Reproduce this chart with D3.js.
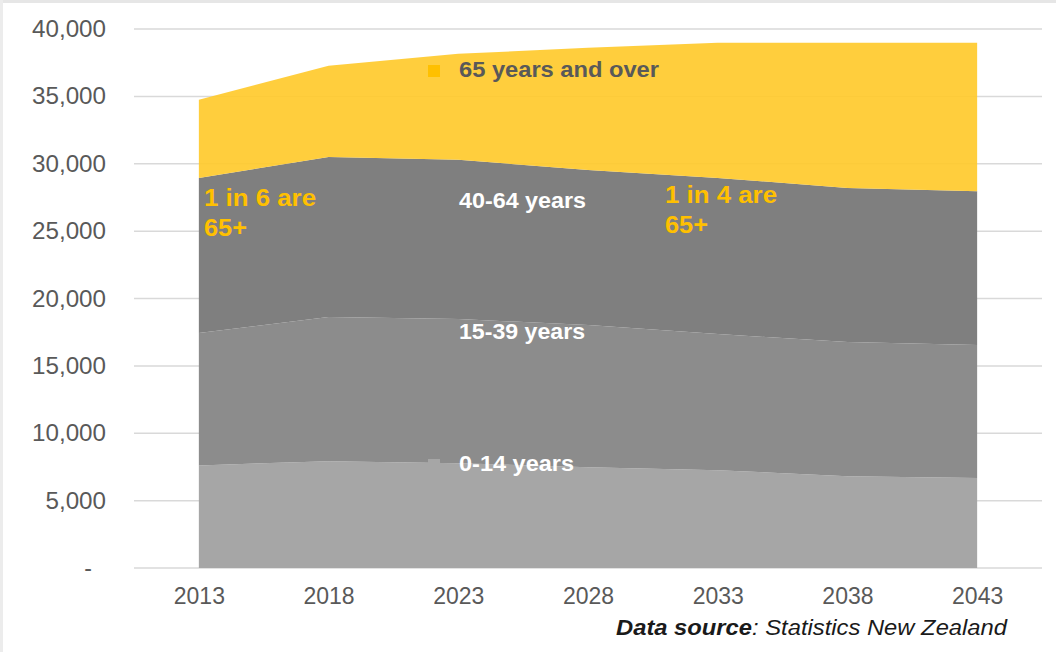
<!DOCTYPE html>
<html>
<head>
<meta charset="utf-8">
<script src="https://cdn.jsdelivr.net/npm/d3@7"></script>
<style>
  html, body { margin: 0; padding: 0; background: #fff; }
  svg { display: block; font-family: "Liberation Sans", Arial, sans-serif; }
</style>
</head>
<body>
<svg id="chart" width="1056" height="652"></svg>
<script>
const years = ["2013", "2018", "2023", "2028", "2033", "2038", "2043"];
const seriesNames = ["0-14 years", "15-39 years", "40-64 years", "65 years and over"];
const age0to14 = [7610, 7930, 7780, 7480, 7260, 6810, 6670];
const age15to39 = [9830, 10700, 10700, 10550, 10100, 9960, 9880];
const age40to64 = [11510, 11880, 11810, 11510, 11590, 11430, 11410];
const age65plus = [5800, 6760, 7870, 9070, 10030, 10780, 11020];
const yTicks = [0, 5000, 10000, 15000, 20000, 25000, 30000, 35000, 40000];
const colors = ["#A6A6A6", "#8C8C8C", "#7F7F7F", "#FFCA2D"];

const rows = years.map((y, i) => ({
  year: y,
  "0-14 years": age0to14[i],
  "15-39 years": age15to39[i],
  "40-64 years": age40to64[i],
  "65 years and over": age65plus[i]
}));

const svg = d3.select("#chart");

// frame edges
svg.append("rect").attr("x", 0).attr("y", 0).attr("width", 1056).attr("height", 3).attr("fill", "#e6e6e6");
svg.append("rect").attr("x", 0).attr("y", 0).attr("width", 3).attr("height", 652).attr("fill", "#ececec");

const x = d3.scalePoint().domain(years).range([134, 1042]).padding(0.5);
const y = d3.scaleLinear().domain([0, 40000]).range([568, 29]);

// gridlines
svg.append("g").selectAll("line").data(yTicks).join("line")
  .attr("x1", 134).attr("x2", 1042)
  .attr("y1", d => y(d)).attr("y2", d => y(d))
  .attr("stroke", "#D9D9D9").attr("stroke-width", 1.5);

const stack = d3.stack().keys(seriesNames)(rows);
const area = d3.area()
  .x(d => x(d.data.year))
  .y0(d => y(d[0]))
  .y1(d => y(d[1]));

svg.append("g").selectAll("path").data(stack).join("path")
  .attr("d", area)
  .attr("fill", (d, i) => colors[i])
  .attr("fill-opacity", (d, i) => i === 3 ? 0.92 : 1);

// y axis labels
const fmt = d3.format(",");
const emWidth = s => Array.from(s).reduce((a, c) => a + (c === "," ? 0.278 : 0.556), 0);
const yAxis = d3.axisLeft(y).tickValues(yTicks)
  .tickFormat(d => d === 0 ? "-" : fmt(d))
  .tickSize(0).tickPadding(0);
const ya = svg.append("g").attr("transform", "translate(106,0)").call(yAxis);
ya.select(".domain").remove();
ya.selectAll("text")
  .attr("fill", "#595959").attr("font-size", 23)
  .attr("font-family", "Liberation Sans, Arial, sans-serif")
  .attr("dy", "0.33em")
  .attr("dx", d => d === 0 ? -14 : 0)
  .attr("textLength", d => d === 0 ? null : 24.2 * emWidth(fmt(d)))
  .attr("lengthAdjust", "spacingAndGlyphs");

// x axis labels
const xAxis = d3.axisBottom(x).tickSize(0).tickPadding(0);
const xa = svg.append("g").attr("transform", "translate(0,587)").call(xAxis);
xa.select(".domain").remove();
xa.selectAll("text")
  .attr("fill", "#595959").attr("font-size", 23)
  .attr("font-family", "Liberation Sans, Arial, sans-serif")
  .attr("dy", "0.73em");

// series labels with markers
const labelPos = [
  { name: seriesNames[0], y: 471, color: "#ffffff", w: 115 },
  { name: seriesNames[1], y: 339, color: "#ffffff", w: 126 },
  { name: seriesNames[2], y: 208, color: "#ffffff", w: 127 },
  { name: seriesNames[3], y: 77, color: "#595959", w: 200 }
];
const markerColors = ["#A6A6A6", "#8C8C8C", "#7F7F7F", "#FFC000"];
const lg = svg.append("g");
labelPos.forEach((p, i) => {
  lg.append("rect").attr("x", 428).attr("y", p.y - 12).attr("width", 12).attr("height", 12)
    .attr("fill", markerColors[i]);
  lg.append("text").attr("x", 459).attr("y", p.y)
    .attr("font-size", 22).attr("font-weight", "bold").attr("fill", p.color)
    .attr("textLength", p.w).attr("lengthAdjust", "spacingAndGlyphs")
    .text(p.name);
});

// annotations
const annot = [
  { x: 204, y: 206, lines: ["1 in 6 are", "65+"], w: [112, 43] },
  { x: 665, y: 203, lines: ["1 in 4 are", "65+"], w: [112, 43] }
];
annot.forEach(a => {
  a.lines.forEach((l, i) => {
    svg.append("text").attr("x", a.x).attr("y", a.y + i * 30)
      .attr("font-size", 24).attr("font-weight", "bold").attr("fill", "#FFC000")
      .attr("textLength", a.w[i]).attr("lengthAdjust", "spacingAndGlyphs")
      .text(l);
  });
});

// source
const src = svg.append("text").attr("x", 1007).attr("y", 635)
  .attr("text-anchor", "end").attr("font-size", 22).attr("font-style", "italic").attr("fill", "#1a1a1a")
  .attr("textLength", 391).attr("lengthAdjust", "spacingAndGlyphs");
src.append("tspan").attr("font-weight", "bold").text("Data source");
src.append("tspan").text(": Statistics New Zealand");
</script>
</body>
</html>
